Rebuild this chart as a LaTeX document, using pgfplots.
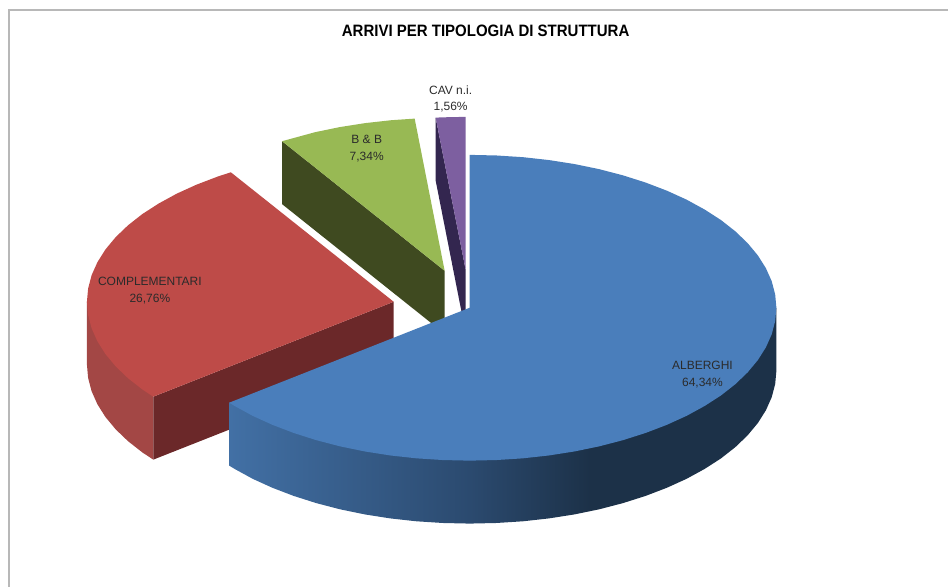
\documentclass[border=0pt]{standalone}
\usepackage{fontspec}
\setmainfont{Liberation Sans}
\usepackage{pgfplots}
\pgfplotsset{compat=1.18}

\definecolor{bluetop}{HTML}{4A7EBB}
\definecolor{redtop}{HTML}{BE4B48}
\definecolor{redside}{HTML}{A34745}
\definecolor{redcut}{HTML}{6B2829}
\definecolor{greentop}{HTML}{98B954}
\definecolor{greencut}{HTML}{3F4A20}
\definecolor{purpletop}{HTML}{7D5FA0}
\definecolor{purplecut}{HTML}{33264F}
\definecolor{labeltext}{HTML}{2B2B2B}
\definecolor{frameline}{HTML}{B8B8B8}
\definecolor{bside}{HTML}{4270A5}
\definecolor{bmid}{HTML}{2B4A6F}
\definecolor{bdark}{HTML}{1C3148}

% side of the big slice: lighter on the left, dark from the middle on
\pgfdeclarehorizontalshading{blueside}{100bp}{
  color(0bp)=(bside); color(25bp)=(bside); color(47bp)=(bmid);
  color(58bp)=(bdark); color(75bp)=(bdark); color(100bp)=(bdark)}

\begin{document}
\begin{tikzpicture}
\begin{axis}[
    width=949pt, height=587pt,
    scale only axis,
    xmin=0, xmax=949,
    ymin=0, ymax=587,
    y dir=reverse,
    hide axis,
    clip=false,
    every axis plot post/.append style={no markers},
]
% keep the whole canvas in the picture
\path (axis cs:0,0) rectangle (axis cs:949,587);

% chart frame
\addplot[draw=frameline, line width=1.5pt] coordinates {(9,587) (9,10) (949,10)};

% B & B
\addplot[fill=greencut, draw=none] coordinates {(282.3,141.3) (445,271) (445,334) (282.3,204.3)};
\addplot[fill=greentop, draw=none] coordinates {
    (445,271) (415,118.7) (391.7,120.3) (365.5,123.2) (340,127.2) (315.3,132.3) (282.3,141.3)};

% CAV n.i.
\addplot[fill=purplecut, draw=none] coordinates {(436,117.7) (466,270) (466,333) (436,180.7)};
\addplot[fill=purpletop, draw=none] coordinates {(466,270) (466,117) (451,117.2) (436,117.7)};

% COMPLEMENTARI
\addplot[fill=redside, draw=none] coordinates {
    (87,302) (87,365) (88.2,378.3) (91.7,391.6) (97.5,404.6) (105.5,417.3) (115.8,429.7)
    (128.1,441.5) (142.5,452.8) (153.4,460) (153.4,397)};
\addplot[fill=redcut, draw=none] coordinates {(394,302) (394,365) (153.4,460) (153.4,397)};
\addplot[fill=redtop, draw=none] coordinates {
    (394,302) (231,172.4) (217.9,176.7) (196.7,184.8) (176.9,193.8) (158.8,203.7) (142.5,214.2)
    (128.1,225.5) (115.8,237.3) (105.5,249.7) (97.5,262.4) (91.7,275.4) (88.2,288.7) (87,302)
    (88.2,315.3) (91.7,328.6) (97.5,341.6) (105.5,354.3) (115.8,366.7) (128.1,378.5)
    (142.5,389.8) (153.4,397)};

% ALBERGHI
\addplot[shading=blueside, draw=none] coordinates {
    (777,308) (777,371) (775.8,384.3) (772.3,397.6) (766.5,410.6) (758.5,423.3) (748.2,435.7)
    (735.9,447.5) (721.5,458.8) (705.2,469.3) (687.1,479.2) (667.3,488.2) (646.1,496.3)
    (623.5,503.5) (599.7,509.7) (575,514.8) (549.5,518.8) (523.3,521.7) (496.8,523.4)
    (470,524) (443.2,523.4) (416.7,521.7) (390.5,518.8) (365,514.8) (340.3,509.7)
    (316.5,503.5) (293.9,496.3) (272.7,488.2) (252.9,479.2) (234.8,469.3) (229.4,466)
    (229.4,403)};
\addplot[fill=bluetop, draw=none] coordinates {
    (470,308) (470,155) (496.8,155.6) (523.3,157.3) (549.5,160.2) (575,164.2) (599.7,169.3)
    (623.5,175.5) (646.1,182.7) (667.3,190.8) (687.1,199.8) (705.2,209.7) (721.5,220.2)
    (735.9,231.5) (748.2,243.3) (758.5,255.7) (766.5,268.4) (772.3,281.4) (775.8,294.7)
    (777,308) (775.8,321.3) (772.3,334.6) (766.5,347.6) (758.5,360.3) (748.2,372.7)
    (735.9,384.5) (721.5,395.8) (705.2,406.3) (687.1,416.2) (667.3,425.2) (646.1,433.3)
    (623.5,440.5) (599.7,446.7) (575,451.8) (549.5,455.8) (523.3,458.7) (496.8,460.4)
    (470,461) (443.2,460.4) (416.7,458.7) (390.5,455.8) (365,451.8) (340.3,446.7)
    (316.5,440.5) (293.9,433.3) (272.7,425.2) (252.9,416.2) (234.8,406.3) (229.4,403)};

% title and slice labels
\node[font=\fontsize{16.5}{18}\selectfont\bfseries, text=black] at (axis cs:486,31)
    {\scalebox{0.91}[1]{ARRIVI PER TIPOLOGIA DI STRUTTURA}};
\begin{scope}[every node/.style={font=\fontsize{12}{14}\selectfont, text=labeltext}]
\node at (axis cs:451,90) {CAV n.i.};
\node at (axis cs:451,107) {1,56\%};
\node at (axis cs:367,140) {B \& B};
\node at (axis cs:367,157) {7,34\%};
\node at (axis cs:150,282) {COMPLEMENTARI};
\node at (axis cs:150,299) {26,76\%};
\node at (axis cs:703,366) {ALBERGHI};
\node at (axis cs:703,383) {64,34\%};
\end{scope}
\end{axis}
\end{tikzpicture}
\end{document}
